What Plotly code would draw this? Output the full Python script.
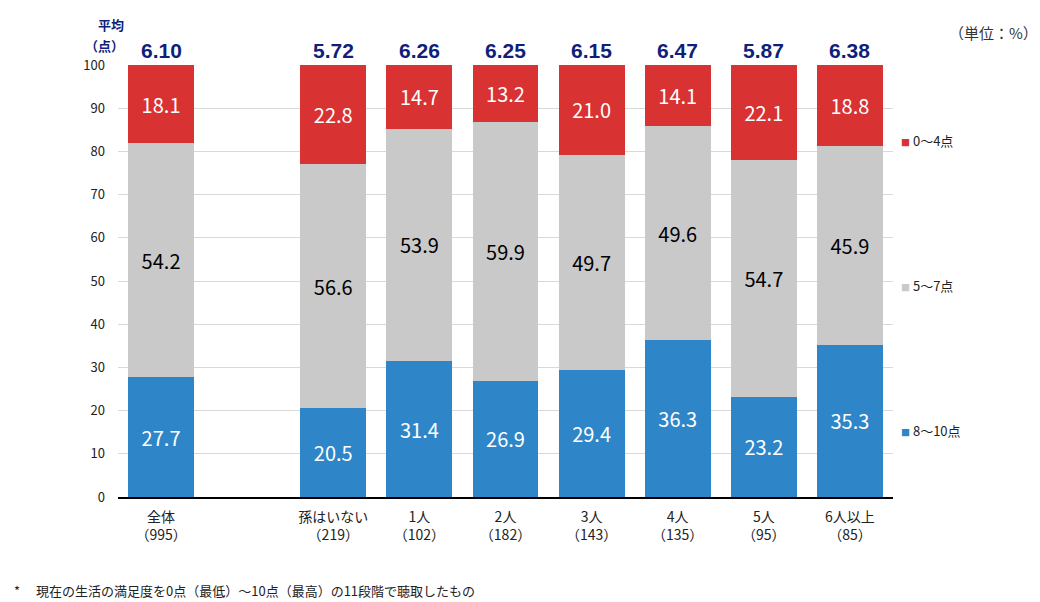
import plotly.graph_objects as go

# 孫の人数別 生活満足度
groups = ["全体", "孫はいない", "1人", "2人", "3人", "4人", "5人", "6人以上"]
counts = [995, 219, 102, 182, 143, 135, 95, 85]
low = [18.1, 22.8, 14.7, 13.2, 21.0, 14.1, 22.1, 18.8]     # 0〜4点
mid = [54.2, 56.6, 53.9, 59.9, 49.7, 49.6, 54.7, 45.9]     # 5〜7点
high = [27.7, 20.5, 31.4, 26.9, 29.4, 36.3, 23.2, 35.3]    # 8〜10点
averages = [6.10, 5.72, 6.26, 6.25, 6.15, 6.47, 5.87, 6.38]

RED = "#d83232"
GRAY = "#c9c9c9"
BLUE = "#2e86c8"
NAVY = "#0f1f7a"
FONT = "Noto Sans CJK JP"

# empty slot between 全体 and the rest
slots = [0] + list(range(2, len(groups) + 1))
ticktext = [f"{g}<br>（{n}）" for g, n in zip(groups, counts)]

fig = go.Figure()
for name, vals, color, tcolor in [
    ("8〜10点", high, BLUE, "white"),
    ("5〜7点", mid, GRAY, "black"),
    ("0〜4点", low, RED, "white"),
]:
    fig.add_trace(go.Bar(
        x=slots, y=vals, name=name,
        marker=dict(color=color, line_width=0),
        text=[f"{v:.1f}" for v in vals],
        textposition="inside", insidetextanchor="middle", textangle=0,
        textfont=dict(color=tcolor, size=20, family=FONT),
        constraintext="none",
    ))

# averages above each bar
for s, a in zip(slots, averages):
    fig.add_annotation(x=s, y=100, yref="y", yanchor="bottom", yshift=1,
                       text=f"<b>{a:.2f}</b>", showarrow=False,
                       font=dict(size=21, color=NAVY, family="Liberation Sans"))

for txt, yv in [("平均", 1.093), ("（点）", 1.046)]:
    fig.add_annotation(xref="paper", yref="paper", x=0.01, y=yv, xanchor="right",
                       yanchor="middle", showarrow=False, text=f"<b>{txt}</b>",
                       font=dict(size=13, color=NAVY, family=FONT))

fig.add_annotation(xref="paper", yref="paper", x=1.19, y=1.075, xanchor="right",
                   yanchor="middle", showarrow=False, text="（単位：%）",
                   font=dict(size=15, color="#333333", family=FONT))

# legend as labels beside the last bar
for name, color, yv in [("0〜4点", RED, 82.6), ("5〜7点", GRAY, 49), ("8〜10点", BLUE, 15.5)]:
    fig.add_annotation(xref="paper", yref="y", x=1.008, y=yv, xanchor="left",
                       yanchor="middle", showarrow=False,
                       text=f"<span style='color:{color};font-size:9px'>■</span> {name}",
                       font=dict(size=13, color="#222222", family=FONT))

fig.add_annotation(xref="paper", yref="paper", x=-0.137, y=-0.19, xanchor="left",
                   yanchor="top", showarrow=False,
                   text="*　 現在の生活の満足度を0点（最低）～10点（最高）の11段階で聴取したもの",
                   font=dict(size=13, color="#222222", family=FONT))

# the page sits 8px in from the window's top-left corner
fig.update_layout(
    barmode="stack",
    bargap=0.234,
    width=1032, height=594,
    margin=dict(l=110, r=147, t=57, b=105),
    paper_bgcolor="white", plot_bgcolor="white",
    showlegend=False,
    font=dict(family=FONT, color="#222222"),
    xaxis=dict(tickmode="array", tickvals=slots, ticktext=ticktext,
               range=[-0.5, len(groups) + 0.5], showgrid=False,
               showline=True, linecolor="black", linewidth=2,
               tickfont=dict(size=14), ticks="", ticklabelstandoff=6),
    yaxis=dict(range=[0, 100], dtick=10, showgrid=True, gridcolor="#d9d9d9",
               gridwidth=1, zeroline=False, tickfont=dict(size=13),
               ticks="", ticklabelstandoff=12),
)

fig.write_html("out.html")
